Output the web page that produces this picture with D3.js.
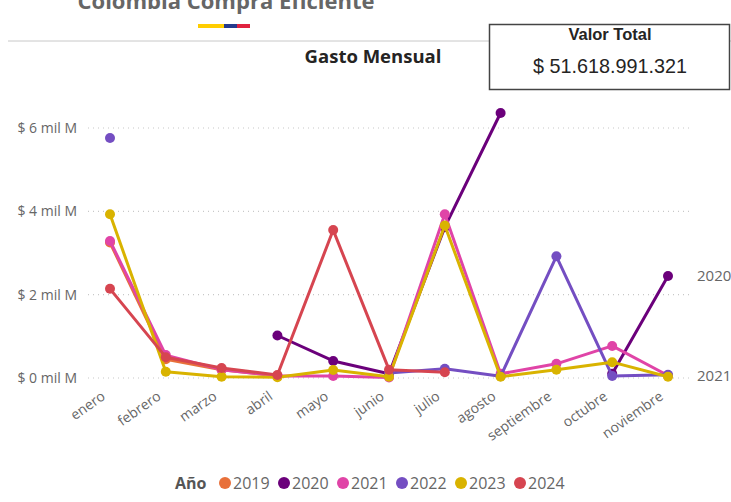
<!DOCTYPE html>
<html><head><meta charset="utf-8">
<script src="https://cdn.jsdelivr.net/npm/d3@7/dist/d3.min.js"></script>
<style>body{margin:0;background:#fff;} svg{display:block;font-family:"Open Sans","Segoe UI",sans-serif;}</style>
</head><body>
<svg id="c" width="731" height="502"></svg>
<script>
const months = ["enero","febrero","marzo","abril","mayo","junio","julio","agosto","septiembre","octubre","noviembre"];
const years = ["2019","2020","2021","2022","2023","2024"];
const colors = ["#E8703A","#6B007B","#E044A7","#744EC2","#D9B300","#D64550"];
// values in "mil M" (thousands of millions)
const v2019 = [3.25,0.45,0.2,0.05,null,null,null,null,null,null,null];
const v2020 = [null,null,null,1.02,0.41,0.1,3.62,6.36,null,0.1,2.45];
const v2021 = [3.29,0.55,0.2,0.05,0.05,0.01,3.93,0.1,0.34,0.77,0.06];
const v2022 = [5.76,null,null,null,null,0.12,0.22,0.04,2.92,0.05,0.08];
const v2023 = [3.93,0.15,0.03,0.02,0.19,0.03,3.66,0.03,0.2,0.38,0.03];
const v2024 = [2.14,0.5,0.24,0.07,3.55,0.2,0.14,null,null,null,null];
const seriesVals = [v2019,v2020,v2021,v2022,v2023,v2024];
const yTicks = [0,2,4,6];
const endLabels = ["2020","2021"];

const svg = d3.select("#c");
// Header
svg.append("text").attr("x",226).attr("y",9).attr("text-anchor","middle")
  .attr("font-size",22).attr("font-weight","bold").attr("fill","#666").text("Colombia Compra Eficiente");
svg.append("rect").attr("x",198).attr("y",24).attr("width",26).attr("height",4).attr("fill","#FFCD00");
svg.append("rect").attr("x",224).attr("y",24).attr("width",13).attr("height",4).attr("fill","#253A8C");
svg.append("rect").attr("x",237).attr("y",24).attr("width",13).attr("height",4).attr("fill","#E0223F");
svg.append("line").attr("x1",8).attr("x2",731).attr("y1",41).attr("y2",41).attr("stroke","#c8c8c8").attr("stroke-width",1);
svg.append("text").attr("x",373).attr("y",63).attr("text-anchor","middle")
  .attr("font-size",18.5).attr("font-weight","bold").attr("fill","#252423").text("Gasto Mensual");
// Valor total box
svg.append("rect").attr("x",489.5).attr("y",24.5).attr("width",240).attr("height",65).attr("fill","#fff").attr("stroke","#444").attr("stroke-width",1.5);
svg.append("text").attr("x",610).attr("y",40).attr("text-anchor","middle").attr("font-family","Liberation Sans, Arial, sans-serif")
  .attr("font-size",16.5).attr("font-weight","bold").attr("fill","#252423").text("Valor Total");
svg.append("text").attr("x",610).attr("y",73).attr("text-anchor","middle").attr("font-family","Liberation Sans, Arial, sans-serif")
  .attr("font-size",19.8).attr("fill","#252423").text("$ 51.618.991.321");

const x = d3.scalePoint().domain(months).range([110,668]);
const y = d3.scaleLinear().domain([0,6]).range([378,128]);

// grid + y labels
const yAxis = d3.axisLeft(y).tickValues(yTicks).tickSize(0).tickFormat(d=>"$ "+d+" mil M");
const ga = svg.append("g").attr("transform","translate(88,0)").call(yAxis);
ga.select(".domain").remove();
ga.selectAll("text").attr("x",-11).attr("fill","#666").attr("font-size",14).attr("font-family","Open Sans, sans-serif");
svg.append("g").selectAll("line").data(yTicks).join("line")
  .attr("x1",88).attr("x2",690).attr("y1",d=>y(d)).attr("y2",d=>y(d))
  .attr("stroke","#c8c8c8").attr("stroke-dasharray","1,4").attr("stroke-width",1.2);

// x axis labels
const xAxis = d3.axisBottom(x).tickSize(0);
const gx = svg.append("g").attr("transform","translate(0,384)").call(xAxis);
gx.select(".domain").remove();
gx.selectAll("text").attr("fill","#666").attr("font-size",14).attr("font-family","Open Sans, sans-serif")
  .attr("text-anchor","end").attr("dy",0).attr("transform","translate(-6,12) rotate(-35)");

// lines
const line = d3.line().defined(d=>d.v!==null).x(d=>x(d.m)).y(d=>y(d.v));
years.forEach((yr,i)=>{
  const data = months.map((m,j)=>({m, v:seriesVals[i][j]}));
  const g = svg.append("g");
  g.append("path").datum(data).attr("d",line).attr("fill","none").attr("stroke",colors[i]).attr("stroke-width",3).attr("stroke-linejoin","round");
  g.selectAll("circle").data(data.filter(d=>d.v!==null)).join("circle")
    .attr("cx",d=>x(d.m)).attr("cy",d=>y(d.v)).attr("r",5).attr("fill",colors[i]);
});

// end labels
endLabels.forEach(lbl=>{
  const i = years.indexOf(lbl);
  const vals = seriesVals[i];
  const last = vals[vals.length-1];
  svg.append("text").attr("x",697).attr("y",y(last)+5).attr("font-size",15).attr("fill","#666").text(lbl);
});

// legend
const lg = svg.append("g").attr("font-size",16);
lg.append("text").attr("x",175).attr("y",489).attr("font-weight","bold").attr("fill","#555").text("Año");
const lx = [225,284,343,402,461,520];
years.forEach((yr,i)=>{
  lg.append("circle").attr("cx",lx[i]).attr("cy",483).attr("r",6).attr("fill",colors[i]);
  lg.append("text").attr("x",lx[i]+8).attr("y",489).attr("fill","#666").text(yr);
});
</script>
</body></html>
